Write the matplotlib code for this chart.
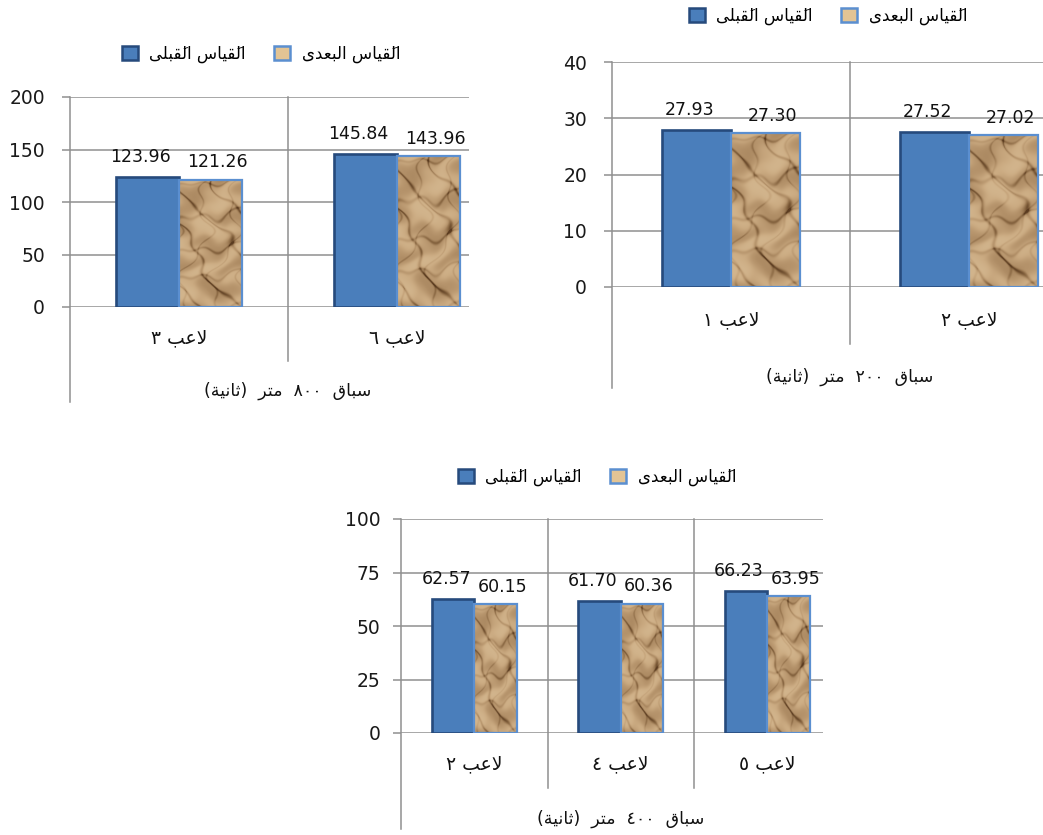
import numpy as np
import matplotlib
matplotlib.use("Agg")
import matplotlib.pyplot as plt
from matplotlib.colors import LinearSegmentedColormap
from matplotlib.patches import Patch

# ---------------------------------------------------------------
# data
# ---------------------------------------------------------------
legend_pre = "القَياس القَبلى"
legend_post = "القَياس البعدى"

players_800 = ["لاعب ٣", "لاعب ٦"]
pre_800 = [123.96, 145.84]
post_800 = [121.26, 143.96]
title_800 = "سباق  ٨٠٠  متر  (ثانية)"

players_200 = ["لاعب ١", "لاعب ٢"]
pre_200 = [27.93, 27.52]
post_200 = [27.30, 27.02]
title_200 = "سباق  ٢٠٠  متر  (ثانية)"

players_400 = ["لاعب ٢", "لاعب ٤", "لاعب ٥"]
pre_400 = [62.57, 61.70, 66.23]
post_400 = [60.15, 60.36, 63.95]
title_400 = "سباق  ٤٠٠  متر  (ثانية)"

# ---------------------------------------------------------------
# small arabic shaper (matplotlib has no RTL shaping)
# ---------------------------------------------------------------
FORMS = {
    "\u0627": ("\uFE8D", "\uFE8E", None, None),
    "\u0628": ("\uFE8F", "\uFE90", "\uFE91", "\uFE92"),
    "\u0629": ("\uFE93", "\uFE94", None, None),
    "\u062A": ("\uFE95", "\uFE96", "\uFE97", "\uFE98"),
    "\u062B": ("\uFE99", "\uFE9A", "\uFE9B", "\uFE9C"),
    "\u062F": ("\uFEA9", "\uFEAA", None, None),
    "\u0631": ("\uFEAD", "\uFEAE", None, None),
    "\u0633": ("\uFEB1", "\uFEB2", "\uFEB3", "\uFEB4"),
    "\u0639": ("\uFEC9", "\uFECA", "\uFECB", "\uFECC"),
    "\u0642": ("\uFED5", "\uFED6", "\uFED7", "\uFED8"),
    "\u0644": ("\uFEDD", "\uFEDE", "\uFEDF", "\uFEE0"),
    "\u0645": ("\uFEE1", "\uFEE2", "\uFEE3", "\uFEE4"),
    "\u0646": ("\uFEE5", "\uFEE6", "\uFEE7", "\uFEE8"),
    "\u0649": ("\uFEEF", "\uFEF0", None, None),
    "\u064A": ("\uFEF1", "\uFEF2", "\uFEF3", "\uFEF4"),
    "LA": ("\uFEFB", "\uFEFC", None, None),
}
MIRROR = {"(": ")", ")": "("}


def is_digit(c):
    return c.isdigit() or c == "."


def rtl(text):
    # group into clusters: [base, marks]
    clusters = []
    i = 0
    while i < len(text):
        c = text[i]
        if "\u064B" <= c <= "\u0652" and clusters:
            clusters[-1][1] += c
            i += 1
            continue
        if c == "\u0644" and i + 1 < len(text) and text[i + 1] == "\u0627":
            clusters.append(["LA", ""])
            i += 2
            continue
        clusters.append([c, ""])
        i += 1

    glyphs = []
    for k, (b, m) in enumerate(clusters):
        if b not in FORMS:
            glyphs.append((MIRROR.get(b, b), m, is_digit(b)))
            continue
        prev = clusters[k - 1][0] if k > 0 else None
        nxt = clusters[k + 1][0] if k + 1 < len(clusters) else None
        jp = prev in FORMS and FORMS[prev][2] is not None
        jn = FORMS[b][2] is not None and nxt in FORMS
        f = FORMS[b]
        if jp and jn:
            g = f[3]
        elif jp:
            g = f[1]
        elif jn:
            g = f[2]
        else:
            g = f[0]
        glyphs.append((g, m, False))

    # reverse, keeping digit runs left-to-right
    runs = []
    for g, m, d in glyphs:
        if d and runs and runs[-1][0]:
            runs[-1][1].append(g + m)
        else:
            runs.append([d, [g + m]])
    out = ""
    for d, parts in reversed(runs):
        out += "".join(parts) if d else "".join(reversed(parts))
    return out


# ---------------------------------------------------------------
# styles
# ---------------------------------------------------------------
W, H = 1043, 835
BLUE = "#4a7ebb"
BLUE_EDGE = "#264a7c"
TAN_EDGE = "#5b8fd0"
GRID = "#8f8f8f"
BW = 0.29

plt.rcParams["font.family"] = ["DejaVu Sans"]

# crumpled paper look for the second series (warped sine pattern)
tex_cmap = LinearSegmentedColormap.from_list(
    "paper", [(0.0, "#5a3b20"), (0.18, "#8a6843"), (0.4, "#b4926a"),
              (0.65, "#cbab82"), (1.0, "#e0c8a2")])
yy, xx = np.mgrid[0:160, 0:64].astype(float)
u = xx + 9 * np.sin(0.061 * yy + 0.4) + 4 * np.sin(0.17 * yy)
v = yy + 7 * np.sin(0.083 * xx + 1.1) + 3 * np.sin(0.23 * xx + 2)
shade = (np.sin(0.12 * u + 0.09 * v)
         + 0.8 * np.sin(0.05 * u - 0.13 * v + 1.3)
         + 0.6 * np.sin(0.20 * u + 0.16 * v + 2.1)
         + 0.5 * np.sin(0.03 * u + 0.21 * v + 0.4))
crease = (np.exp(-np.sin(0.07 * u - 0.05 * v + 0.5) ** 2 / 0.02)
          + 0.7 * np.exp(-np.sin(0.03 * u + 0.08 * v + 1.7) ** 2 / 0.02)
          + 0.5 * np.exp(-np.sin(0.11 * u + 0.02 * v + 2.6) ** 2 / 0.015))
texture = 0.56 + 0.22 * np.tanh(shade * 0.7) - 0.32 * crease
texture = np.clip(texture, 0, 1)


def panel(box, xright, cats, pre, post, yticks, title, leg_xy, tpad):
    x0, x1, ytop, ybot = box
    ax = fig.add_axes([x0 / W, 1 - ybot / H, (x1 - x0) / W, (ybot - ytop) / H])
    n = len(cats)
    x = np.arange(n)

    b1 = ax.bar(x - BW / 2, pre, BW, color=BLUE, edgecolor=BLUE_EDGE,
                linewidth=1.9, zorder=3)
    b2 = ax.bar(x + BW / 2, post, BW, color="none", edgecolor=TAN_EDGE,
                linewidth=1.6, zorder=4)
    for r in b2:
        ax.imshow(texture, cmap=tex_cmap, aspect="auto", zorder=3, vmin=0, vmax=1,
                  extent=(r.get_x(), r.get_x() + r.get_width(), 0, r.get_height()),
                  interpolation="bilinear")

    for r, v in zip(b1, pre):
        ax.annotate(f"{v:.2f}", (r.get_x() + r.get_width() / 2, v),
                    xytext=(-5, 8), textcoords="offset points",
                    ha="center", va="bottom", fontsize=12.5, color="#111111")
    for r, v in zip(b2, post):
        ax.annotate(f"{v:.2f}", (r.get_x() + r.get_width() / 2, v),
                    xytext=(5, 6), textcoords="offset points",
                    ha="center", va="bottom", fontsize=12.5, color="#111111")

    ax.set_xlim(-0.5, xright)
    ax.set_ylim(yticks[0], yticks[-1])
    ax.set_yticks(yticks)
    ax.set_xticks([])
    ax.grid(axis="y", color=GRID, linewidth=1.1, zorder=0)
    for s in ax.spines.values():
        s.set_visible(False)
    ax.tick_params(axis="y", length=6, width=1.1, color=GRID, pad=tpad,
                   labelsize=13.5, labelcolor="#1a1a1a")

    tr = ax.get_xaxis_transform()
    ax.plot([-0.5, -0.5], [1, -0.45], transform=tr, color=GRID, lw=1.1,
            clip_on=False, zorder=1)
    for k in range(1, n):
        ax.plot([k - 0.5, k - 0.5], [1, -0.255], transform=tr, color=GRID,
                lw=1.1, clip_on=False, zorder=1)
    for k, c in enumerate(cats):
        ax.text(k, -0.145, rtl(c), transform=tr, ha="center", va="center",
                fontsize=13.5, color="#111111")
    ax.text((n - 1) / 2, -0.40, rtl(title), transform=tr, ha="center",
            va="center", fontsize=12.5, color="#111111")

    handles = [Patch(facecolor=BLUE, edgecolor=BLUE_EDGE, linewidth=1.8),
               Patch(facecolor="#e3c494", edgecolor=TAN_EDGE, linewidth=1.8)]
    ax.legend(handles, [rtl(legend_pre), rtl(legend_post)], ncol=2,
              loc="center", bbox_to_anchor=(leg_xy[0] / W, 1 - leg_xy[1] / H),
              bbox_transform=fig.transFigure, frameon=False, fontsize=12,
              handlelength=0.95, handleheight=0.95, handletextpad=0.7,
              columnspacing=1.7)
    return ax


fig = plt.figure(figsize=(W / 100, H / 100), dpi=100)

panel((70, 469, 97, 307), 0.5 + (469 - 288) / 218, players_800, pre_800,
      post_800, [0, 50, 100, 150, 200], title_800, (261, 54), 12)
panel((612, 1043, 62, 287), 0.5 + (1043 - 850) / 238, players_200, pre_200,
      post_200, [0, 10, 20, 30, 40], title_200, (828, 16), 12)
panel((401, 823, 519, 733), 2.5 - (840.5 - 823) / 146.5, players_400, pre_400,
      post_400, [0, 25, 50, 75, 100], title_400, (597, 477), 9)

fig.savefig("out.png", dpi=100)
